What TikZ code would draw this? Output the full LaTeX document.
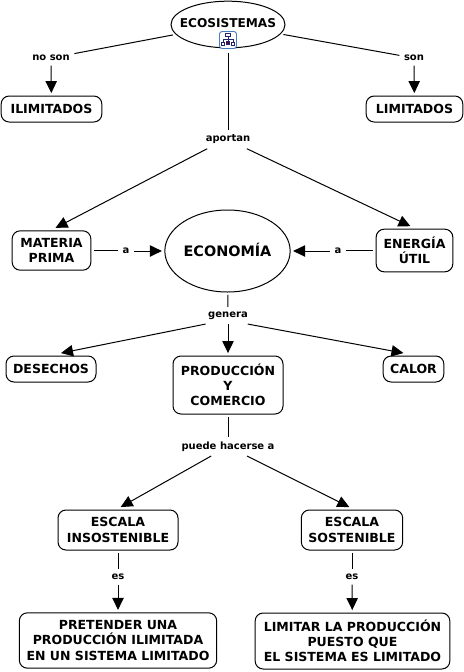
\documentclass[tikz,border=0pt]{standalone}
\usepackage{fontspec}
\setmainfont{DejaVu Sans}
\usetikzlibrary{arrows.meta,shapes.geometric}
\newcommand{\ovaltext}[2]{\makebox[0pt]{\smash{\raisebox{#1}{#2}}}}
\definecolor{iconblue}{RGB}{70,125,195}
\definecolor{icondark}{RGB}{30,40,110}
\tikzset{
  concept/.style={draw=black,line width=0.75pt,rounded corners=6pt,fill=white,align=center,font=\bfseries\fontsize{9.4}{11.4}\selectfont,inner sep=0pt,outer sep=2.2pt},
  oval/.style={draw=black,line width=0.75pt,ellipse,fill=white,align=center,inner sep=0pt,outer sep=2.2pt},
  lbl/.style={font=\bfseries\fontsize{7.5}{8}\selectfont,inner sep=1.5pt,outer sep=2pt},
  link/.style={line width=0.75pt,black},
  arr/.style={link,-{Triangle[length=9pt,width=8.5pt]}}
}
\begin{document}
\begin{tikzpicture}[x=0.75pt,y=-0.75pt]
\useasboundingbox (0,0) rectangle (464,672);
\fill[white] (0,0) rectangle (464,672);
% concepts
\node[oval,minimum width=85.5pt,minimum height=35pt,font=\bfseries\fontsize{9.1}{12}\selectfont] (eco) at (228,24.5) {\ovaltext{-1.9pt}{ECOSISTEMAS}};
\node[concept,minimum width=75.5pt,minimum height=19.5pt] (ilim) at (51.5,109) {ILIMITADOS};
\node[concept,minimum width=72.5pt,minimum height=19.5pt] (lim) at (414.5,109) {LIMITADOS};
\node[concept,minimum width=59pt,minimum height=29.5pt] (mat) at (51.5,250.5) {MATERIA\\PRIMA};
\node[oval,minimum width=94pt,minimum height=61.5pt,font=\bfseries\fontsize{10.8}{14}\selectfont] (econ) at (227.5,251) {\ovaltext{-4.2pt}{ECONOMÍA}};
\node[concept,minimum width=57.5pt,minimum height=32pt] (ene) at (414.5,250.5) {ENERGÍA\\ÚTIL};
\node[concept,minimum width=67.5pt,minimum height=19.5pt] (des) at (51,369) {DESECHOS};
\node[concept,minimum width=82.5pt,minimum height=43.5pt] (prod) at (228,385) {PRODUCCIÓN\\Y\\COMERCIO};
\node[concept,minimum width=45.5pt,minimum height=19.5pt] (cal) at (413.5,369) {CALOR};
\node[concept,minimum width=90pt,minimum height=30pt] (ins) at (118,530) {ESCALA\\INSOSTENIBLE};
\node[concept,minimum width=76pt,minimum height=30pt] (sos) at (352,530) {ESCALA\\SOSTENIBLE};
\node[concept,minimum width=148pt,minimum height=41.5pt] (pre) at (118,640.5) {PRETENDER UNA\\PRODUCCIÓN ILIMITADA\\EN UN SISTEMA LIMITADO};
\node[concept,minimum width=146pt,minimum height=42pt] (lpr) at (352.5,641) {LIMITAR LA PRODUCCIÓN\\PUESTO QUE\\EL SISTEMA ES LIMITADO};
% labels
\node[lbl] (noson) at (51,58) {no son};
\node[lbl] (son) at (414,58) {son};
\node[lbl] (apo) at (228,139.5) {aportan};
\node[lbl] (a1) at (126,251) {a};
\node[lbl] (a2) at (338,251) {a};
\node[lbl] (gen) at (228,315.5) {genera};
\node[lbl] (pue) at (228,446.5) {puede hacerse a};
\node[lbl] (es1) at (118,577) {es};
\node[lbl] (es2) at (352,577) {es};
% connectors
\draw[link] (eco) -- (noson);
\draw[arr] (noson) -- (ilim);
\draw[link] (eco) -- (son);
\draw[arr] (son) -- (lim);
\coordinate (ecoS) at (228,53);
\draw[link] (ecoS) -- (apo);
\draw[arr] ([xshift=4.5pt]apo.south west) -- ([xshift=3pt]mat.north);
\draw[arr] ([xshift=-6pt]apo.south east) -- ([xshift=-3pt]ene.north);
\draw[link] (mat) -- (mat -| a1.west);
\draw[arr] (a1) -- (econ);
\draw[link] (ene) -- (ene -| a2.east);
\draw[arr] (a2) -- (econ);
\draw[link] (econ) -- (gen);
\draw[arr] ([xshift=1.5pt]gen.south west) -- ([xshift=7.5pt]des.north);
\draw[arr] (gen) -- (prod);
\draw[arr] ([xshift=-3.5pt]gen.south east) -- ([xshift=-7.5pt]cal.north);
\draw[link] (prod) -- (pue);
\draw[arr] (pue) -- ([xshift=2pt]ins.north);
\draw[arr] (pue) -- ([xshift=-2pt]sos.north);
\draw[link] (ins) -- (es1);
\draw[arr] (es1) -- (pre);
\draw[link] (sos) -- (es2);
\draw[arr] (es2) -- (lpr);
% icon on the top concept
\draw[draw=iconblue,fill=white,line width=0.7pt,rounded corners=2pt] (219.5,31.5) rectangle (236.5,48.5);
\begin{scope}[navy/.style={draw=icondark,line width=0.5pt,fill=white}]
\draw[icondark,line width=0.5pt] (228,36) -- (228,39) (223,43) -- (223,39) -- (233,39) -- (233,43) (228,39) -- (228,43);
\draw[navy] (225.5,33.5) rectangle (230.5,36.5);
\draw[navy] (221.5,42) rectangle (224.5,45);
\draw[navy] (231.5,42) rectangle (234.5,45);
\draw[navy,fill=red!50!black] (226.8,41) rectangle (229.2,44);
\end{scope}
\end{tikzpicture}
\end{document}
